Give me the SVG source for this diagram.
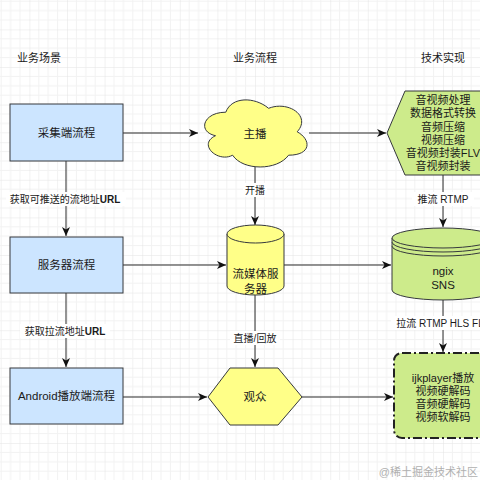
<svg xmlns="http://www.w3.org/2000/svg" width="480" height="480" viewBox="0 0 480 480">
<style>
text{font-family:"Liberation Sans","Noto Sans CJK SC",sans-serif;fill:#1a1a1a;dominant-baseline:central;text-anchor:middle}
.h{font-size:11px}
.n{font-size:11.5px}
.l{font-size:10px}
.box{fill:#cce5ff;stroke:#36393d;stroke-width:1}
.yel{fill:#ffff88;stroke:#36393d;stroke-width:1}
.grn{fill:#cdeb8b;stroke:#36393d;stroke-width:1}
.e{fill:none;stroke:#2b2b2b;stroke-width:1}
.lb{fill:#ffffff}
</style>
<defs>
<pattern id="grid" patternUnits="userSpaceOnUse" x="29.4" y="29.4" width="37.6" height="37.6">
<path d="M9.4,0V37.6M18.8,0V37.6M28.2,0V37.6M0,9.4H37.6M0,18.8H37.6M0,28.2H37.6" stroke="#f2f2f2" stroke-width="1" fill="none"/>
<path d="M0,0V37.6M0,0H37.6" stroke="#e4e4e4" stroke-width="1" fill="none"/>
</pattern>
<marker id="arr" markerWidth="10" markerHeight="10" refX="9" refY="5" orient="auto" markerUnits="userSpaceOnUse">
<path d="M0,1 L9,5 L0,9 L2.5,5 Z" fill="#111"/>
</marker>
</defs>
<rect width="480" height="480" fill="#ffffff"/>
<rect width="480" height="480" fill="url(#grid)"/>

<g id="headers">
<text class="h" x="39" y="58">业务场景</text>
<text class="h" x="255" y="58">业务流程</text>
<text class="h" x="443" y="58">技术实现</text>
</g>

<g id="connectors">
<path class="e" d="M123,133 H198" marker-end="url(#arr)"/>
<path class="e" d="M309,133 H386" marker-end="url(#arr)"/>
<path class="e" d="M66,161 V236" marker-end="url(#arr)"/>
<path class="e" d="M255,167 V225" marker-end="url(#arr)"/>
<path class="e" d="M443,175 V227" marker-end="url(#arr)"/>
<path class="e" d="M123,265 H226" marker-end="url(#arr)"/>
<path class="e" d="M284,265 H391" marker-end="url(#arr)"/>
<path class="e" d="M66,293 V367" marker-end="url(#arr)"/>
<path class="e" d="M255,295 V367" marker-end="url(#arr)"/>
<path class="e" d="M443,300 V352" marker-end="url(#arr)"/>
<path class="e" d="M123,397 H207" marker-end="url(#arr)"/>
<path class="e" d="M302,397 H393" marker-end="url(#arr)"/>
<rect class="lb" x="6" y="192" width="120" height="14"/>
<text class="l" x="65" y="199">获取可推送的流地址<tspan font-weight="bold">URL</tspan></text>
<rect class="lb" x="243" y="183" width="24" height="14"/>
<text class="l" x="255" y="190">开播</text>
<rect class="lb" x="412" y="192" width="62" height="14"/>
<text class="l" x="443" y="199">推流 RTMP</text>
<rect class="lb" x="20" y="324" width="90" height="14"/>
<text class="l" x="65" y="331">获取拉流地址<tspan font-weight="bold">URL</tspan></text>
<rect class="lb" x="230" y="331" width="50" height="14"/>
<text class="l" x="255" y="338">直播/回放</text>
<rect class="lb" x="391" y="316" width="104" height="14"/>
<text class="l" x="443" y="323">拉流 RTMP HLS FLV</text>
</g>

<g id="n-collect">
<rect class="box" x="10" y="104" width="113" height="57"/>
<text class="n" x="66.5" y="133">采集端流程</text>
</g>
<g id="n-server">
<rect class="box" x="10" y="237" width="113" height="56"/>
<text class="n" x="66.5" y="265">服务器流程</text>
</g>
<g id="n-android">
<rect class="box" x="10" y="368" width="113" height="56"/>
<text class="n" x="66.5" y="396">Android播放端流程</text>
</g>

<g id="n-anchor">
<path class="yel" d="M225.8,112.2 C202.9,112.2 197.2,131.8 215.5,135.7 C197.2,144.3 217.8,163.1 232.6,155.2 C242.9,170.9 277.2,170.9 288.6,155.2 C311.5,155.2 311.5,139.6 297.2,131.8 C311.5,116.1 288.6,100.4 268.6,108.3 C254.4,96.5 231.5,96.5 225.8,112.2 Z"/>
<text class="n" x="255" y="134">主播</text>
</g>
<g id="n-media">
<path class="yel" d="M227,234 A28.5,9 0 0 1 284,234 V286 A28.5,9 0 0 1 227,286 Z"/>
<path class="yel" d="M227,234 A28.5,9 0 0 0 284,234" fill="none"/>
<text class="n" x="255.5" y="274">流媒体服</text>
<text class="n" x="255.5" y="289">务器</text>
</g>
<g id="n-audience">
<polygon class="yel" points="208,397 230,368 278,368 302,397 278,425 230,425"/>
<text class="n" x="255" y="397">观众</text>
</g>

<g id="n-tech">
<polygon class="grn" points="387,133 405,91 481,91 499,133 481,175 405,175"/>
<text class="h" x="443" y="100">音视频处理</text>
<text class="h" x="443" y="113">数据格式转换</text>
<text class="h" x="443" y="126.5">音频压缩</text>
<text class="h" x="443" y="140">视频压缩</text>
<text class="h" x="443" y="153">音视频封装FLV</text>
<text class="h" x="443" y="166">音视频封装</text>
</g>
<g id="n-ngix">
<path class="grn" d="M392,238 A51,10 0 0 1 494,238 V290 A51,10 0 0 1 392,290 Z"/>
<path class="grn" d="M392,238 A51,10 0 0 0 494,238 M392,242 A51,10 0 0 0 494,242 M392,246 A51,10 0 0 0 494,246" fill="none"/>
<text class="n" x="443" y="271">ngix</text>
<text class="n" x="443" y="285">SNS</text>
</g>
<g id="n-player">
<rect x="394" y="353" width="98" height="85" rx="8" fill="#cdeb8b" stroke="#222" stroke-width="2" stroke-dasharray="9 3 2 3"/>
<text class="h" x="443" y="378">ijkplayer播放</text>
<text class="h" x="443" y="391">视频硬解码</text>
<text class="h" x="443" y="404">音频硬解码</text>
<text class="h" x="443" y="417">视频软解码</text>
</g>

<text x="478" y="472" style="font-size:11px;fill:#b0b0b0;text-anchor:end">@稀土掘金技术社区</text>
</svg>
